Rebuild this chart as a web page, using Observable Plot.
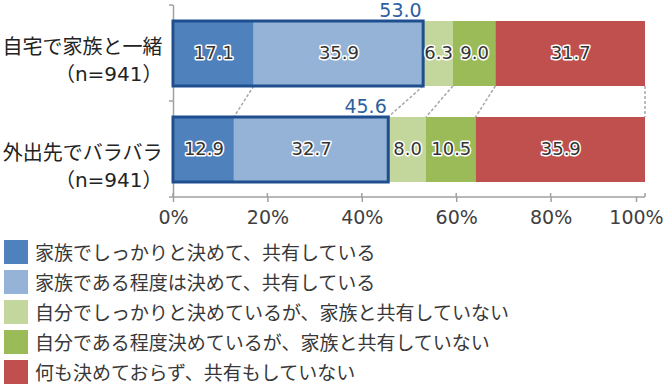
<!DOCTYPE html>
<html><head><meta charset="utf-8">
<script src="https://cdn.jsdelivr.net/npm/d3@7"></script>
<script src="https://cdn.jsdelivr.net/npm/@observablehq/plot@0.6"></script>
<style>
body{margin:0;background:#fff;font-family:"DejaVu Sans","Noto Sans CJK JP",sans-serif;}
#chart{width:666px;height:387px;position:relative;overflow:hidden;background:#fff}
#chart svg{display:block}
.legend{margin-top:4px}
.row{display:flex;align-items:center;height:24px;margin-bottom:6px}
.sw{width:24px;height:24px;margin-left:4px;margin-right:7px;flex:none}
.lab{font-size:19px;color:#383838;font-family:"Noto Sans CJK JP",sans-serif;white-space:nowrap;line-height:24px}
</style></head><body><div id="chart"></div>
<script>
const categories = ["自宅で家族と一緒\n（n=941）", "外出先でバラバラ\n（n=941）"];
const series = [
  "家族でしっかりと決めて、共有している",
  "家族である程度は決めて、共有している",
  "自分でしっかりと決めているが、家族と共有していない",
  "自分である程度決めているが、家族と共有していない",
  "何も決めておらず、共有もしていない"
];
const colors = ["#4F81BD", "#95B3D7", "#C3D69B", "#9BBB59", "#C0504D"];
const homeValues = [17.1, 35.9, 6.3, 9.0, 31.7];
const awayValues = [12.9, 32.7, 8.0, 10.5, 35.9];
const xTicks = [0, 20, 40, 60, 80, 100];

const valueSets = [homeValues, awayValues];
const rows = categories.flatMap((c, i) => valueSets[i].map((v, j) => ({cat: c, series: series[j], value: v})));
const sums = categories.map((c, i) => ({cat: c, sum: d3.sum(valueSets[i].slice(0, 2))}));

const INSET_T = 16, INSET_B = 15;

function extras(index, scales, values, dimensions) {
  const x = scales.x, y = scales.y;
  const bw = typeof y.bandwidth === "function" ? y.bandwidth() : (dimensions.height - dimensions.marginTop - dimensions.marginBottom) / categories.length;
  const g = d3.create("svg:g");
  const cum = valueSets.map(a => Array.from(d3.cumsum(a)));
  const yA = y(categories[0]) + bw - INSET_B, yB = y(categories[1]) + INSET_T;
  cum[0].forEach((v, j) => {
    g.append("line").attr("x1", x(v)).attr("y1", yA).attr("x2", x(cum[1][j])).attr("y2", yB)
      .attr("stroke", "#A6A6A6").attr("stroke-width", 1.5).attr("stroke-dasharray", "3,2");
  });
  const bottom = dimensions.height - dimensions.marginBottom;
  g.append("line").attr("x1", x(0)).attr("x2", x(100)).attr("y1", bottom).attr("y2", bottom)
    .attr("stroke", "#A0A0A0").attr("stroke-width", 1.5);
  xTicks.forEach(t => g.append("line").attr("x1", x(t)).attr("x2", x(t)).attr("y1", bottom - 4).attr("y2", bottom)
    .attr("stroke", "#A0A0A0").attr("stroke-width", 1.5));
  const bounds = [y(categories[0]), y(categories[1]), y(categories[1]) + bw];
  bounds.forEach(b => g.append("line").attr("x1", x(0) - 4).attr("x2", x(0)).attr("y1", b).attr("y2", b)
    .attr("stroke", "#A0A0A0").attr("stroke-width", 1.5));
  return g.node();
}

const xAxisOpts = {tickFormat: d => d + "%", tickSize: 5, tickPadding: 8, fontSize: 19, stroke: "#A0A0A0", strokeWidth: 1.5, fill: "#404040", label: null};

const plot = Plot.plot({
  width: 666, height: 236,
  marginTop: 5, marginBottom: 39, marginLeft: 173, marginRight: 21,
  style: {fontFamily: '"DejaVu Sans","Noto Sans CJK JP",sans-serif', color: "#404040", background: "white"},
  x: {domain: [0, 100], axis: null},
  y: {domain: categories, padding: 0, axis: null},
  color: {domain: series, range: colors},
  marks: [
    Plot.barX(rows, Plot.stackX({x: "value", y: "cat", fill: "series", insetTop: INSET_T, insetBottom: INSET_B})),
    extras,
    Plot.ruleX([0], {stroke: "#A0A0A0", strokeWidth: 1.5}),
    Plot.barX(sums, {x1: 0, x2: "sum", y: "cat", fill: "none", stroke: "#1F4E8F", strokeWidth: 3, insetTop: INSET_T, insetBottom: INSET_B}),
    Plot.text(rows, Plot.stackX({x: "value", y: "cat", text: d => d.value.toFixed(1), fill: "#333", stroke: "white", strokeWidth: 3, paintOrder: "stroke", fontSize: 18})),
    Plot.text(sums, {x: "sum", y: "cat", text: d => d.sum.toFixed(1), textAnchor: "end", dx: -2, dy: -43, fill: "#2E5FA0", fontSize: 19}),
    Plot.axisX(xTicks.slice(0, -1), xAxisOpts),
    Plot.axisX(xTicks.slice(-1), {...xAxisOpts, dx: -9}),
    Plot.axisY([categories[0]], {tickSize: 0, tickPadding: 11, fontSize: 20, lineHeight: 1.35, dy: 5, fill: "#222", label: null}),
    Plot.axisY([categories[1]], {tickSize: 0, tickPadding: 11, fontSize: 20, lineHeight: 1.35, dy: 15, fill: "#222", label: null})
  ]
});

const chart = document.getElementById("chart");
chart.appendChild(plot);
const legend = d3.select(chart).append("div").attr("class", "legend");
series.forEach((s, i) => {
  const r = legend.append("div").attr("class", "row");
  r.append("div").attr("class", "sw").style("background", colors[i]);
  r.append("div").attr("class", "lab").text(s);
});
</script></body></html>
